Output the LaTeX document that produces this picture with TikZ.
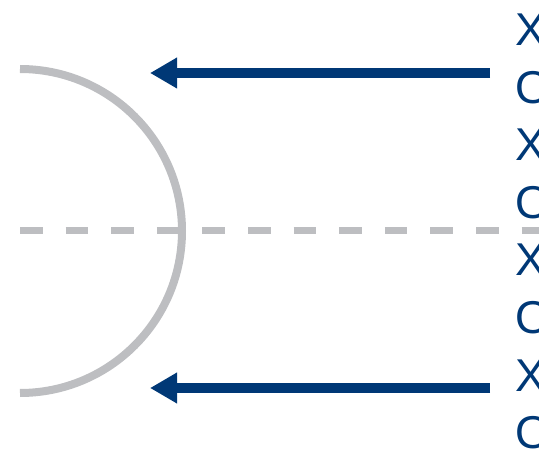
\documentclass[tikz,border=0pt]{standalone}
\usepackage{fontspec}
\setmainfont{Liberation Sans}
\usetikzlibrary{arrows.meta}
\definecolor{lensgray}{RGB}{189,190,193}
\definecolor{raynavy}{RGB}{0,56,118}
\tikzset{
  ray/.style={raynavy,line width=10pt,-{Triangle[length=27pt,width=29pt]}},
  axisline/.style={lensgray,line width=7pt,dash pattern=on 22.5pt off 23.1pt},
  mirror/.style={lensgray,line width=8pt},
  tag/.style={raynavy,inner sep=0pt,anchor=base west,font=\fontsize{46}{57.5}\selectfont}
}
\begin{document}
\begin{tikzpicture}[x=1pt,y=1pt]
  \useasboundingbox (0,0) rectangle (539,448);
  \coordinate (axisL) at (20,217);
  \coordinate (axisR) at (539,217);
  \coordinate (top) at (20,379);
  \draw[axisline] (axisL) -- (axisR);
  \draw[mirror] (top) arc[start angle=90,end angle=-90,radius=162];
  \coordinate (r1s) at (490,375);
  \coordinate (r1e) at (150,375);
  \coordinate (r2s) at (490,60);
  \coordinate (r2e) at (150,60);
  \draw[ray] (r1s) -- (r1e);
  \draw[ray] (r2s) -- (r2e);
  \node[tag] (x1) at (515,402){X};
  \node[tag] (o1) at (515,344.5){O};
  \node[tag] (x2) at (515,287){X};
  \node[tag] (o2) at (515,229.5){O};
  \node[tag] (x3) at (515,172){X};
  \node[tag] (o3) at (515,114.5){O};
  \node[tag] (x4) at (515,57){X};
  \node[tag] (o4) at (515,-0.5){O};
\end{tikzpicture}
\end{document}
